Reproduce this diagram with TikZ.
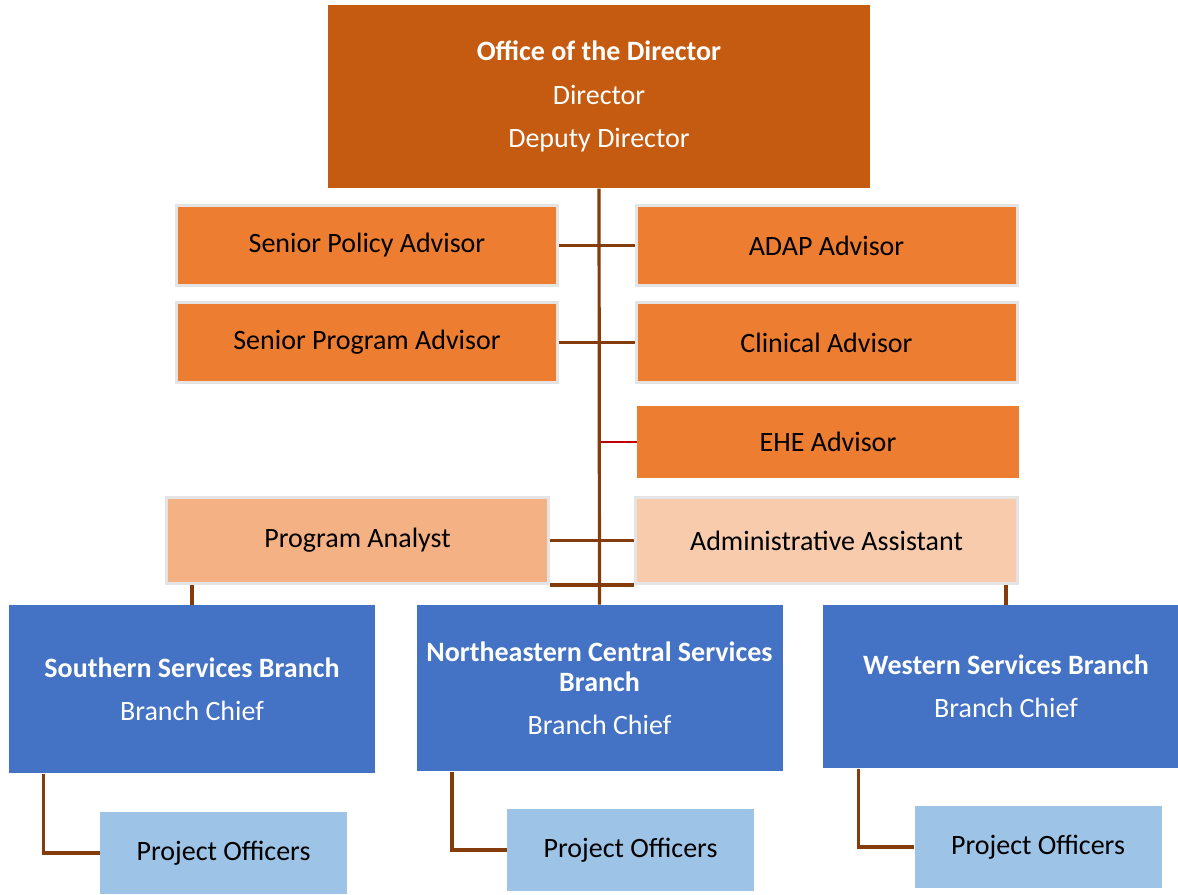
\documentclass[tikz,border=0pt]{standalone}
\usepackage{fontspec}
\setmainfont{Carlito}
\usetikzlibrary{calc}

\definecolor{dirorange}{HTML}{C55A11}
\definecolor{advorange}{HTML}{ED7D31}
\definecolor{analystorange}{HTML}{F4B183}
\definecolor{assistorange}{HTML}{F8CBAD}
\definecolor{branchblue}{HTML}{4472C4}
\definecolor{officerblue}{HTML}{9DC3E6}
\definecolor{linkbrown}{HTML}{843C0C}
\definecolor{linkred}{HTML}{C00000}
\definecolor{boxrim}{HTML}{E4E4E4}

\tikzset{every picture/.style={line width=0.75pt}}
\tikzset{
  chartfont/.style={font=\fontsize{21}{24}\selectfont, align=center, inner sep=0pt},
  dirbox/.style={chartfont, fill=dirorange, text=white, minimum width=406.5pt, minimum height=137.25pt},
  advbox/.style={chartfont, fill=advorange, draw=boxrim, line width=2.25pt, minimum width=285.75pt, minimum height=60pt},
  ehebox/.style={chartfont, fill=advorange, minimum width=286.5pt, minimum height=54pt},
  staffbox/.style={chartfont, draw=boxrim, line width=2.25pt, minimum width=286.5pt, minimum height=64.5pt},
  branchbox/.style={chartfont, fill=branchblue, text=white, minimum width=274.5pt},
  officerbox/.style={chartfont, fill=officerblue, minimum width=185.25pt, minimum height=61.5pt},
  link/.style={draw=linkbrown, line width=2.4pt},
  ehelink/.style={draw=linkred, line width=2pt}
}

\begin{document}
\begin{tikzpicture}[x=0.75pt,y=0.75pt,yscale=-1,xscale=1]
	\useasboundingbox (0,0) rectangle (1178,894);
	
	% Director
	\node[dirbox] (dir) at (599,96.5) {\textbf{Office of the Director}\\[8.6pt]Director\\[8.6pt]Deputy Director};
	
	% Advisors
	\node[advbox] (spa) at (367,245.5) {Senior Policy Advisor};
	\node[advbox] (ada) at (826.5,245.5) {ADAP Advisor};
	\node[advbox] (sprog) at (367,342.5) {Senior Program Advisor};
	\node[advbox] (cli) at (826.5,342.5) {Clinical Advisor};
	\node[ehebox] (ehe) at (828,442) {EHE Advisor};
	
	% Staff
	\node[staffbox, fill=analystorange] (pa) at (357.5,540.5) {Program Analyst};
	\node[staffbox, fill=assistorange] (aa) at (826.5,540.5) {Administrative Assistant};
	
	% Branches
	\node[branchbox, minimum height=126pt] (ssb) at (192,689) {\textbf{Southern Services Branch}\\[8pt]Branch Chief};
	\node[branchbox, minimum height=124.5pt] (ne) at (599.5,688) {\textbf{Northeastern Central Services}\\[-1.5pt]\textbf{Branch}\\[8pt]Branch Chief};
	\node[branchbox, minimum height=122.25pt] (wsb) at (1006,686.5) {\textbf{Western Services Branch}\\[8pt]Branch Chief};
	
	% Project officers
	\node[officerbox] (po1) at (223.5,853) {Project Officers};
	\node[officerbox] (po2) at (630.5,850) {Project Officers};
	\node[officerbox] (po3) at (1038,847) {Project Officers};
	
	% Connectors
	\draw[ehelink] (ehe.west) -- (ehe.west -| dir.south);
	\draw[link] (dir.south) -- (ne.north);
	\draw[link] (spa.east) -- (ada.west);
	\draw[link] (sprog.east) -- (cli.west);
	\draw[link] (pa.east) -- (aa.west);
	\draw[link] (pa.south east) -- (aa.south west);
	\draw[link] (ssb.north) -- (ssb.north |- pa.south);
	\draw[link] (wsb.north) -- (wsb.north |- aa.south);
	\draw[link] ($(ssb.south west)+(35,0)$) |- (po1.west);
	\draw[link] ($(ne.south west)+(36,0)$) |- (po2.west);
	\draw[link] ($(wsb.south west)+(36,0)$) |- (po3.west);
	
\end{tikzpicture}
\end{document}
